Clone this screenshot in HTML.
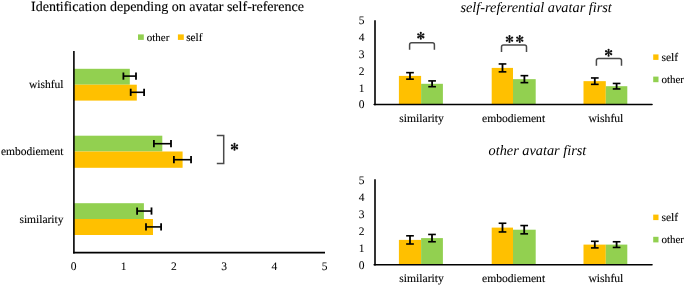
<!DOCTYPE html>
<html><head><meta charset="utf-8"><style>
html,body{margin:0;padding:0;background:#fff;width:685px;height:285px;overflow:hidden;}
svg{display:block;font-family:"Liberation Serif",serif;will-change:transform;}
</style></head><body>
<svg width="685" height="285" viewBox="0 0 685 285" font-family="Liberation Serif, serif" text-rendering="geometricPrecision">
<rect width="685" height="285" fill="#fff"/>
<text x="31.00" y="11.00" font-size="14" text-anchor="start" font-style="normal" fill="#000" stroke="#000" stroke-width="0.12" >Identification depending on avatar self-reference</text>
<rect x="138.00" y="34.40" width="5.80" height="5.50" fill="#92D050"/>
<text x="146.80" y="40.50" font-size="11" text-anchor="start" font-style="normal" fill="#000" stroke="#000" stroke-width="0.12" >other</text>
<rect x="177.90" y="34.40" width="5.90" height="5.50" fill="#FFC000"/>
<text x="186.20" y="40.50" font-size="11.3" text-anchor="start" font-style="normal" fill="#000" stroke="#000" stroke-width="0.12" >self</text>
<rect x="73.50" y="68.80" width="56.30" height="15.90" fill="#92D050"/>
<rect x="73.50" y="84.70" width="63.30" height="15.90" fill="#FFC000"/>
<rect x="73.50" y="135.70" width="88.80" height="15.80" fill="#92D050"/>
<rect x="73.50" y="151.50" width="109.10" height="16.30" fill="#FFC000"/>
<rect x="73.50" y="203.20" width="70.40" height="15.80" fill="#92D050"/>
<rect x="73.50" y="219.00" width="79.50" height="16.00" fill="#FFC000"/>
<line x1="123.40" y1="76.10" x2="136.00" y2="76.10" stroke="#000" stroke-width="1.6"/>
<line x1="123.40" y1="72.50" x2="123.40" y2="79.70" stroke="#000" stroke-width="1.8"/>
<line x1="136.00" y1="72.50" x2="136.00" y2="79.70" stroke="#000" stroke-width="1.8"/>
<line x1="130.70" y1="92.30" x2="144.10" y2="92.30" stroke="#000" stroke-width="1.6"/>
<line x1="130.70" y1="88.70" x2="130.70" y2="95.90" stroke="#000" stroke-width="1.8"/>
<line x1="144.10" y1="88.70" x2="144.10" y2="95.90" stroke="#000" stroke-width="1.8"/>
<line x1="153.90" y1="143.70" x2="171.00" y2="143.70" stroke="#000" stroke-width="1.6"/>
<line x1="153.90" y1="140.10" x2="153.90" y2="147.30" stroke="#000" stroke-width="1.8"/>
<line x1="171.00" y1="140.10" x2="171.00" y2="147.30" stroke="#000" stroke-width="1.8"/>
<line x1="173.90" y1="159.70" x2="191.05" y2="159.70" stroke="#000" stroke-width="1.6"/>
<line x1="173.90" y1="156.10" x2="173.90" y2="163.30" stroke="#000" stroke-width="1.8"/>
<line x1="191.05" y1="156.10" x2="191.05" y2="163.30" stroke="#000" stroke-width="1.8"/>
<line x1="137.10" y1="211.05" x2="151.50" y2="211.05" stroke="#000" stroke-width="1.6"/>
<line x1="137.10" y1="207.45" x2="137.10" y2="214.65" stroke="#000" stroke-width="1.8"/>
<line x1="151.50" y1="207.45" x2="151.50" y2="214.65" stroke="#000" stroke-width="1.8"/>
<line x1="146.00" y1="226.90" x2="161.10" y2="226.90" stroke="#000" stroke-width="1.6"/>
<line x1="146.00" y1="223.30" x2="146.00" y2="230.50" stroke="#000" stroke-width="1.8"/>
<line x1="161.10" y1="223.30" x2="161.10" y2="230.50" stroke="#000" stroke-width="1.8"/>
<line x1="73.90" y1="51.00" x2="73.90" y2="253.40" stroke="#000" stroke-width="1.6"/>
<line x1="73.10" y1="252.60" x2="325.00" y2="252.60" stroke="#000" stroke-width="1.6"/>
<text x="73.50" y="270.30" font-size="11.5" text-anchor="middle" font-style="normal" fill="#000" stroke="#000" stroke-width="0.05" >0</text>
<text x="123.74" y="270.30" font-size="11.5" text-anchor="middle" font-style="normal" fill="#000" stroke="#000" stroke-width="0.05" >1</text>
<text x="173.98" y="270.30" font-size="11.5" text-anchor="middle" font-style="normal" fill="#000" stroke="#000" stroke-width="0.05" >2</text>
<text x="224.22" y="270.30" font-size="11.5" text-anchor="middle" font-style="normal" fill="#000" stroke="#000" stroke-width="0.05" >3</text>
<text x="274.46" y="270.30" font-size="11.5" text-anchor="middle" font-style="normal" fill="#000" stroke="#000" stroke-width="0.05" >4</text>
<text x="324.70" y="270.30" font-size="11.5" text-anchor="middle" font-style="normal" fill="#000" stroke="#000" stroke-width="0.05" >5</text>
<text x="63.50" y="87.90" font-size="11.5" text-anchor="end" font-style="normal" fill="#000" stroke="#000" stroke-width="0.12" >wishful</text>
<text x="63.50" y="155.30" font-size="11.5" text-anchor="end" font-style="normal" fill="#000" stroke="#000" stroke-width="0.12" >embodiement</text>
<text x="63.50" y="222.50" font-size="11.5" text-anchor="end" font-style="normal" fill="#000" stroke="#000" stroke-width="0.12" >similarity</text>
<path d="M216.8 135.6 H223.7 V163.6 H216.8" fill="none" stroke="#4a4a4a" stroke-width="1.5"/>
<path transform="translate(234.50 146.80)" d="M0.20 0.00L1.05 -2.95A1.05 1.05 0 1 0 -1.05 -2.95L-0.20 -0.00ZM0.10 0.17L3.08 -0.57A1.05 1.05 0 1 0 2.03 -2.38L-0.10 -0.17ZM-0.10 0.17L2.03 2.38A1.05 1.05 0 1 0 3.08 0.57L0.10 -0.17ZM-0.20 0.00L-1.05 2.95A1.05 1.05 0 1 0 1.05 2.95L0.20 -0.00ZM-0.10 -0.17L-3.08 0.57A1.05 1.05 0 1 0 -2.03 2.38L0.10 0.17ZM0.10 -0.17L-2.03 -2.38A1.05 1.05 0 1 0 -3.08 -0.57L-0.10 0.17Z" fill="#111"/>
<text x="460.40" y="11.70" font-size="14.3" text-anchor="start" font-style="italic" fill="#000" >self-referential avatar first</text>
<rect x="398.90" y="75.90" width="22.20" height="28.60" fill="#FFC000"/>
<rect x="421.10" y="83.80" width="21.80" height="20.70" fill="#92D050"/>
<rect x="491.70" y="67.90" width="21.30" height="36.60" fill="#FFC000"/>
<rect x="513.00" y="79.15" width="22.70" height="25.35" fill="#92D050"/>
<rect x="583.50" y="81.15" width="22.30" height="23.35" fill="#FFC000"/>
<rect x="605.80" y="86.20" width="21.50" height="18.30" fill="#92D050"/>
<line x1="410.00" y1="72.65" x2="410.00" y2="79.15" stroke="#000" stroke-width="1.8"/>
<line x1="406.15" y1="72.65" x2="413.85" y2="72.65" stroke="#000" stroke-width="1.6"/>
<line x1="406.15" y1="79.15" x2="413.85" y2="79.15" stroke="#000" stroke-width="1.6"/>
<line x1="432.10" y1="80.90" x2="432.10" y2="86.70" stroke="#000" stroke-width="1.8"/>
<line x1="428.25" y1="80.90" x2="435.95" y2="80.90" stroke="#000" stroke-width="1.6"/>
<line x1="428.25" y1="86.70" x2="435.95" y2="86.70" stroke="#000" stroke-width="1.6"/>
<line x1="502.50" y1="63.95" x2="502.50" y2="71.85" stroke="#000" stroke-width="1.8"/>
<line x1="498.65" y1="63.95" x2="506.35" y2="63.95" stroke="#000" stroke-width="1.6"/>
<line x1="498.65" y1="71.85" x2="506.35" y2="71.85" stroke="#000" stroke-width="1.6"/>
<line x1="524.40" y1="75.65" x2="524.40" y2="82.65" stroke="#000" stroke-width="1.8"/>
<line x1="520.55" y1="75.65" x2="528.25" y2="75.65" stroke="#000" stroke-width="1.6"/>
<line x1="520.55" y1="82.65" x2="528.25" y2="82.65" stroke="#000" stroke-width="1.6"/>
<line x1="594.80" y1="77.95" x2="594.80" y2="84.35" stroke="#000" stroke-width="1.8"/>
<line x1="590.95" y1="77.95" x2="598.65" y2="77.95" stroke="#000" stroke-width="1.6"/>
<line x1="590.95" y1="84.35" x2="598.65" y2="84.35" stroke="#000" stroke-width="1.6"/>
<line x1="616.60" y1="83.45" x2="616.60" y2="88.95" stroke="#000" stroke-width="1.8"/>
<line x1="612.75" y1="83.45" x2="620.45" y2="83.45" stroke="#000" stroke-width="1.6"/>
<line x1="612.75" y1="88.95" x2="620.45" y2="88.95" stroke="#000" stroke-width="1.6"/>
<line x1="375.00" y1="20.20" x2="375.00" y2="105.25" stroke="#000" stroke-width="1.6"/>
<line x1="374.2" y1="104.5" x2="652" y2="104.5" stroke="#000" stroke-width="1.6" stroke-linecap="round"/>
<text x="364.60" y="108.40" font-size="11.5" text-anchor="end" font-style="normal" fill="#000" stroke="#000" stroke-width="0.05" >0</text>
<text x="364.60" y="91.55" font-size="11.5" text-anchor="end" font-style="normal" fill="#000" stroke="#000" stroke-width="0.05" >1</text>
<text x="364.60" y="74.70" font-size="11.5" text-anchor="end" font-style="normal" fill="#000" stroke="#000" stroke-width="0.05" >2</text>
<text x="364.60" y="57.85" font-size="11.5" text-anchor="end" font-style="normal" fill="#000" stroke="#000" stroke-width="0.05" >3</text>
<text x="364.60" y="41.00" font-size="11.5" text-anchor="end" font-style="normal" fill="#000" stroke="#000" stroke-width="0.05" >4</text>
<text x="364.60" y="24.15" font-size="11.5" text-anchor="end" font-style="normal" fill="#000" stroke="#000" stroke-width="0.05" >5</text>
<text x="421.60" y="121.60" font-size="11.6" text-anchor="middle" font-style="normal" fill="#000" stroke="#000" stroke-width="0.12" >similarity</text>
<text x="513.60" y="121.60" font-size="11.6" text-anchor="middle" font-style="normal" fill="#000" stroke="#000" stroke-width="0.12" >embodiement</text>
<text x="605.90" y="121.60" font-size="11.6" text-anchor="middle" font-style="normal" fill="#000" stroke="#000" stroke-width="0.12" >wishful</text>
<rect x="653.20" y="54.40" width="5.30" height="5.50" fill="#FFC000"/>
<text x="661.40" y="60.70" font-size="11.6" text-anchor="start" font-style="normal" fill="#000" stroke="#000" stroke-width="0.12" >self</text>
<rect x="653.20" y="76.60" width="5.30" height="5.60" fill="#92D050"/>
<text x="661.40" y="83.00" font-size="11" text-anchor="start" font-style="normal" fill="#000" stroke="#000" stroke-width="0.12" >other</text>
<path d="M409.6 49.8 V44.8 Q409.6 42.8 411.6 42.8 H432.4 Q434.4 42.8 434.4 44.8 V49.8" fill="none" stroke="#4a4a4a" stroke-width="1.5"/>
<path transform="translate(420.80 35.80)" d="M0.20 0.00L1.05 -2.95A1.05 1.05 0 1 0 -1.05 -2.95L-0.20 -0.00ZM0.10 0.17L3.08 -0.57A1.05 1.05 0 1 0 2.03 -2.38L-0.10 -0.17ZM-0.10 0.17L2.03 2.38A1.05 1.05 0 1 0 3.08 0.57L0.10 -0.17ZM-0.20 0.00L-1.05 2.95A1.05 1.05 0 1 0 1.05 2.95L0.20 -0.00ZM-0.10 -0.17L-3.08 0.57A1.05 1.05 0 1 0 -2.03 2.38L0.10 0.17ZM0.10 -0.17L-2.03 -2.38A1.05 1.05 0 1 0 -3.08 -0.57L-0.10 0.17Z" fill="#111"/>
<path d="M501.5 52.0 V46.9 Q501.5 44.9 503.5 44.9 H524.5 Q526.5 44.9 526.5 46.9 V52.0" fill="none" stroke="#4a4a4a" stroke-width="1.5"/>
<path transform="translate(509.50 39.10)" d="M0.20 0.00L1.05 -2.95A1.05 1.05 0 1 0 -1.05 -2.95L-0.20 -0.00ZM0.10 0.17L3.08 -0.57A1.05 1.05 0 1 0 2.03 -2.38L-0.10 -0.17ZM-0.10 0.17L2.03 2.38A1.05 1.05 0 1 0 3.08 0.57L0.10 -0.17ZM-0.20 0.00L-1.05 2.95A1.05 1.05 0 1 0 1.05 2.95L0.20 -0.00ZM-0.10 -0.17L-3.08 0.57A1.05 1.05 0 1 0 -2.03 2.38L0.10 0.17ZM0.10 -0.17L-2.03 -2.38A1.05 1.05 0 1 0 -3.08 -0.57L-0.10 0.17Z" fill="#111"/>
<path transform="translate(519.75 39.10)" d="M0.20 0.00L1.05 -2.95A1.05 1.05 0 1 0 -1.05 -2.95L-0.20 -0.00ZM0.10 0.17L3.08 -0.57A1.05 1.05 0 1 0 2.03 -2.38L-0.10 -0.17ZM-0.10 0.17L2.03 2.38A1.05 1.05 0 1 0 3.08 0.57L0.10 -0.17ZM-0.20 0.00L-1.05 2.95A1.05 1.05 0 1 0 1.05 2.95L0.20 -0.00ZM-0.10 -0.17L-3.08 0.57A1.05 1.05 0 1 0 -2.03 2.38L0.10 0.17ZM0.10 -0.17L-2.03 -2.38A1.05 1.05 0 1 0 -3.08 -0.57L-0.10 0.17Z" fill="#111"/>
<path d="M596.4 65.7 V60.5 Q596.4 58.5 598.4 58.5 H619.5 Q621.5 58.5 621.5 60.5 V65.7" fill="none" stroke="#4a4a4a" stroke-width="1.5"/>
<path transform="translate(608.60 52.70)" d="M0.20 0.00L1.05 -2.95A1.05 1.05 0 1 0 -1.05 -2.95L-0.20 -0.00ZM0.10 0.17L3.08 -0.57A1.05 1.05 0 1 0 2.03 -2.38L-0.10 -0.17ZM-0.10 0.17L2.03 2.38A1.05 1.05 0 1 0 3.08 0.57L0.10 -0.17ZM-0.20 0.00L-1.05 2.95A1.05 1.05 0 1 0 1.05 2.95L0.20 -0.00ZM-0.10 -0.17L-3.08 0.57A1.05 1.05 0 1 0 -2.03 2.38L0.10 0.17ZM0.10 -0.17L-2.03 -2.38A1.05 1.05 0 1 0 -3.08 -0.57L-0.10 0.17Z" fill="#111"/>
<text x="488.60" y="155.20" font-size="14.3" text-anchor="start" font-style="italic" fill="#000" >other avatar first</text>
<rect x="398.90" y="239.90" width="22.20" height="24.80" fill="#FFC000"/>
<rect x="421.10" y="238.10" width="21.80" height="26.60" fill="#92D050"/>
<rect x="491.70" y="227.60" width="21.30" height="37.10" fill="#FFC000"/>
<rect x="513.00" y="229.70" width="22.70" height="35.00" fill="#92D050"/>
<rect x="583.50" y="244.60" width="22.30" height="20.10" fill="#FFC000"/>
<rect x="605.80" y="244.60" width="21.50" height="20.10" fill="#92D050"/>
<line x1="410.00" y1="235.80" x2="410.00" y2="244.00" stroke="#000" stroke-width="1.8"/>
<line x1="406.15" y1="235.80" x2="413.85" y2="235.80" stroke="#000" stroke-width="1.6"/>
<line x1="406.15" y1="244.00" x2="413.85" y2="244.00" stroke="#000" stroke-width="1.6"/>
<line x1="432.00" y1="234.45" x2="432.00" y2="241.75" stroke="#000" stroke-width="1.8"/>
<line x1="428.15" y1="234.45" x2="435.85" y2="234.45" stroke="#000" stroke-width="1.6"/>
<line x1="428.15" y1="241.75" x2="435.85" y2="241.75" stroke="#000" stroke-width="1.6"/>
<line x1="502.50" y1="223.25" x2="502.50" y2="231.95" stroke="#000" stroke-width="1.8"/>
<line x1="498.65" y1="223.25" x2="506.35" y2="223.25" stroke="#000" stroke-width="1.6"/>
<line x1="498.65" y1="231.95" x2="506.35" y2="231.95" stroke="#000" stroke-width="1.6"/>
<line x1="524.20" y1="225.55" x2="524.20" y2="233.85" stroke="#000" stroke-width="1.8"/>
<line x1="520.35" y1="225.55" x2="528.05" y2="225.55" stroke="#000" stroke-width="1.6"/>
<line x1="520.35" y1="233.85" x2="528.05" y2="233.85" stroke="#000" stroke-width="1.6"/>
<line x1="594.80" y1="241.30" x2="594.80" y2="247.90" stroke="#000" stroke-width="1.8"/>
<line x1="590.95" y1="241.30" x2="598.65" y2="241.30" stroke="#000" stroke-width="1.6"/>
<line x1="590.95" y1="247.90" x2="598.65" y2="247.90" stroke="#000" stroke-width="1.6"/>
<line x1="616.60" y1="241.75" x2="616.60" y2="247.45" stroke="#000" stroke-width="1.8"/>
<line x1="612.75" y1="241.75" x2="620.45" y2="241.75" stroke="#000" stroke-width="1.6"/>
<line x1="612.75" y1="247.45" x2="620.45" y2="247.45" stroke="#000" stroke-width="1.6"/>
<line x1="375.00" y1="179.30" x2="375.00" y2="265.45" stroke="#000" stroke-width="1.6"/>
<line x1="374.2" y1="264.7" x2="652" y2="264.7" stroke="#000" stroke-width="1.6" stroke-linecap="round"/>
<text x="364.60" y="268.60" font-size="11.5" text-anchor="end" font-style="normal" fill="#000" stroke="#000" stroke-width="0.05" >0</text>
<text x="364.60" y="251.75" font-size="11.5" text-anchor="end" font-style="normal" fill="#000" stroke="#000" stroke-width="0.05" >1</text>
<text x="364.60" y="234.90" font-size="11.5" text-anchor="end" font-style="normal" fill="#000" stroke="#000" stroke-width="0.05" >2</text>
<text x="364.60" y="218.05" font-size="11.5" text-anchor="end" font-style="normal" fill="#000" stroke="#000" stroke-width="0.05" >3</text>
<text x="364.60" y="201.20" font-size="11.5" text-anchor="end" font-style="normal" fill="#000" stroke="#000" stroke-width="0.05" >4</text>
<text x="364.60" y="184.35" font-size="11.5" text-anchor="end" font-style="normal" fill="#000" stroke="#000" stroke-width="0.05" >5</text>
<text x="421.60" y="281.80" font-size="11.6" text-anchor="middle" font-style="normal" fill="#000" stroke="#000" stroke-width="0.12" >similarity</text>
<text x="513.60" y="281.80" font-size="11.6" text-anchor="middle" font-style="normal" fill="#000" stroke="#000" stroke-width="0.12" >embodiement</text>
<text x="605.90" y="281.80" font-size="11.6" text-anchor="middle" font-style="normal" fill="#000" stroke="#000" stroke-width="0.12" >wishful</text>
<rect x="653.20" y="214.60" width="5.30" height="5.50" fill="#FFC000"/>
<text x="661.40" y="220.90" font-size="11.6" text-anchor="start" font-style="normal" fill="#000" stroke="#000" stroke-width="0.12" >self</text>
<rect x="653.20" y="236.80" width="5.30" height="5.60" fill="#92D050"/>
<text x="661.40" y="243.20" font-size="11" text-anchor="start" font-style="normal" fill="#000" stroke="#000" stroke-width="0.12" >other</text>
</svg>
</body></html>
